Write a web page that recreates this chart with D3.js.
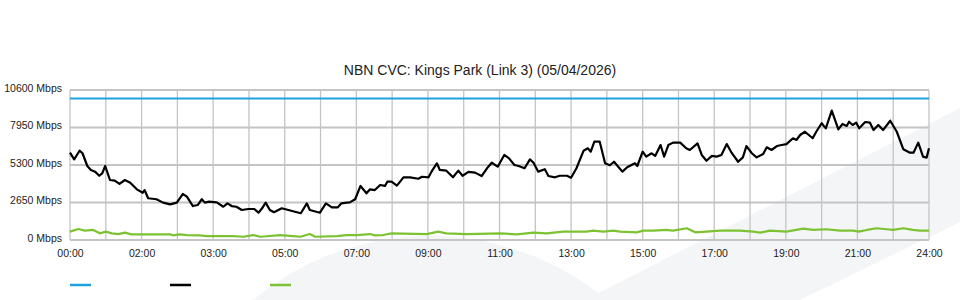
<!DOCTYPE html>
<html>
<head>
<meta charset="utf-8">
<script src="https://cdn.jsdelivr.net/npm/d3@7"></script>
<style>
  body { margin: 0; background: #fff; }
  svg { display: block; font-family: "Liberation Sans", Arial, sans-serif; }
  .axis text { fill: #222; font-size: 10.5px; }
  .axis path, .axis line { display: none; }
</style>
</head>
<body>
<div id="chart"></div>
<script>
var title = "NBN CVC: Kings Park (Link 3) (05/04/2026)";

var yTicks = [0, 2650, 5300, 7950, 10600];
var xLabels = ["00:00", "02:00", "03:00", "05:00", "07:00", "09:00", "11:00", "13:00", "15:00", "17:00", "19:00", "21:00", "24:00"];

// capacity (blue)
var capTime = [0, 1440];
var capMbps = [10000, 10000];

// traffic (black), minutes after midnight / Mbps
var trafTime = [0, 7, 16, 21, 29, 35, 42, 49, 54, 59, 67, 75, 83, 92, 101, 112, 122, 125, 131, 145,
  156, 168, 179, 189, 196, 206, 214, 221, 226, 233, 246, 257, 264, 271, 279, 288, 299, 309, 316, 322,
  328, 335, 342, 355, 366, 377, 387, 397, 402, 419, 429, 439, 449, 455, 464, 469, 478, 487, 497, 503,
  511, 520, 528, 532, 539, 548, 559, 570, 584, 590, 601, 606, 615, 620, 631, 642, 651, 658, 668, 679,
  690, 699, 707, 717, 728, 736, 745, 752, 762, 771, 777, 785, 796, 802, 813, 821, 833, 840, 849, 861,
  868, 873, 879, 888, 897, 905, 912, 919, 926, 934, 947, 951, 960, 966, 975, 981, 990, 996, 1003, 1011,
  1023, 1033, 1039, 1052, 1059, 1067, 1076, 1084, 1092, 1101, 1109, 1120, 1128, 1134, 1143, 1151, 1162, 1168, 1176, 1185,
  1193, 1201, 1212, 1218, 1224, 1232, 1245, 1251, 1260, 1267, 1277, 1288, 1295, 1302, 1306, 1312, 1318, 1323, 1333, 1341,
  1347, 1355, 1363, 1375, 1386, 1397, 1408, 1414, 1422, 1430, 1436, 1440];
var trafMbps = [6170, 5700, 6310, 6130, 5230, 4950, 4830, 4540, 4710, 5230, 4240, 4190, 3960, 4240, 4050, 3580, 3340, 3530, 2950, 2880,
  2640, 2520, 2640, 3250, 3060, 2400, 2470, 2880, 2640, 2710, 2660, 2350, 2590, 2400, 2350, 2120, 2190, 2190, 1930, 2240,
  2640, 2120, 1960, 2240, 2120, 2000, 1890, 2590, 2120, 1930, 2590, 2310, 2310, 2590, 2640, 2660, 2880, 3820, 3300, 3580,
  3530, 3890, 3820, 4120, 4120, 3840, 4430, 4430, 4330, 4470, 4430, 4830, 5420, 4950, 4900, 4430, 4900, 4540, 4810, 4760,
  4520, 5070, 5460, 5180, 6010, 5770, 5300, 5230, 5070, 5700, 5460, 4830, 5000, 4520, 4430, 4540, 4540, 4400, 5070, 6310,
  6480, 6240, 6950, 6950, 5420, 5280, 5530, 5180, 4830, 5140, 5420, 5230, 6240, 5890, 6130, 5940, 6710, 5890, 6710, 6880,
  6880, 6480, 6360, 6830, 6010, 5600, 5940, 5890, 6010, 6780, 6170, 5530, 5840, 6640, 6130, 5840, 6080, 6550, 6360, 6640,
  6710, 6780, 7190, 7070, 7420, 7650, 7190, 7650, 8250, 7890, 9140, 7820, 8200, 8060, 8360, 8130, 8290, 7890, 8340, 8290,
  7770, 8130, 7770, 8430, 7650, 6410, 6170, 6170, 6880, 5890, 5820, 6480];

// upstream (green)
var upTime = [0, 14, 25, 39, 50, 60, 70, 81, 92, 103, 129, 168, 173, 184, 196, 218, 229, 274, 291, 307,
  319, 352, 374, 386, 402, 411, 447, 464, 481, 503, 511, 525, 539, 598, 617, 631, 665, 721, 749, 777,
  799, 827, 866, 877, 894, 911, 922, 950, 961, 978, 1000, 1011, 1034, 1048, 1067, 1090, 1123, 1145, 1157, 1173,
  1201, 1229, 1246, 1268, 1291, 1313, 1322, 1336, 1352, 1369, 1380, 1397, 1413, 1425, 1440];
var upMbps = [590, 780, 660, 710, 470, 590, 470, 420, 520, 400, 400, 400, 330, 400, 350, 330, 280, 280, 230, 350,
  230, 350, 280, 230, 420, 230, 280, 350, 350, 420, 330, 350, 470, 420, 590, 470, 420, 470, 400, 520,
  470, 590, 590, 660, 590, 660, 590, 540, 660, 660, 710, 660, 830, 540, 590, 660, 660, 590, 520, 660,
  590, 800, 710, 760, 660, 660, 590, 710, 830, 760, 710, 830, 710, 660, 660];

var colors = ["#1fa2dd", "#000000", "#7cc232"];

var svg = d3.select("#chart").append("svg")
    .attr("width", 960)
    .attr("height", 300);

// background swoosh
svg.append("circle")
  .attr("cx", 430).attr("cy", 513).attr("r", 277)
  .attr("fill", "#f4f5f7");
svg.append("path")
  .attr("d", "M585,300 L960,108 L960,222 L800,300 Z")
  .attr("fill", "#f4f5f7");

var x = d3.scaleLinear().domain([0, 1440]).range([70, 929]);
var y = d3.scaleLinear().domain([0, 10600]).range([240, 90]);

// grid
svg.append("g").selectAll("line")
  .data(d3.range(0, 1441, 60)).enter()
  .append("line")
    .attr("x1", d => x(d)).attr("x2", d => x(d))
    .attr("y1", y(10600)).attr("y2", y(0))
    .attr("stroke", "#c4c4c4")
    .attr("stroke-width", 1.3);

svg.append("g").selectAll("line")
  .data(yTicks).enter()
  .append("line")
    .attr("x1", x(0)).attr("x2", x(1440))
    .attr("y1", d => y(d)).attr("y2", d => y(d))
    .attr("stroke", "#c4c4c4")
    .attr("stroke-width", 2);

svg.append("g")
  .attr("class", "axis")
  .attr("transform", "translate(62,-2)")
  .call(d3.axisLeft(y).tickValues(yTicks).tickSize(0).tickPadding(0).tickFormat(d => d + " Mbps"));

svg.append("g")
  .attr("class", "axis")
  .attr("transform", "translate(0,250)")
  .call(d3.axisBottom(x).tickValues(d3.range(0, 1441, 120)).tickSize(0).tickPadding(0)
    .tickFormat((d, i) => xLabels[i]));

svg.append("text")
  .attr("x", 480).attr("y", 75)
  .attr("text-anchor", "middle")
  .attr("font-size", "14px")
  .attr("fill", "#222")
  .text(title);

function drawSeries(times, vals, color) {
  var pts = times.map((t, i) => [t, vals[i]]);
  svg.append("path")
    .attr("fill", "none")
    .attr("stroke", color)
    .attr("stroke-width", 2.2)
    .attr("stroke-linejoin", "round")
    .attr("d", d3.line().x(d => x(d[0])).y(d => y(d[1]))(pts));
}

drawSeries(upTime, upMbps, colors[2]);
drawSeries(trafTime, trafMbps, colors[1]);
drawSeries(capTime, capMbps, colors[0]);

// legend swatches (no labels)
svg.append("g").selectAll("line")
  .data(colors).enter()
  .append("line")
    .attr("x1", (d, i) => 70 + i * 100).attr("x2", (d, i) => 91 + i * 100)
    .attr("y1", 285).attr("y2", 285)
    .attr("stroke", d => d)
    .attr("stroke-width", 2.5);
</script>
</body>
</html>
